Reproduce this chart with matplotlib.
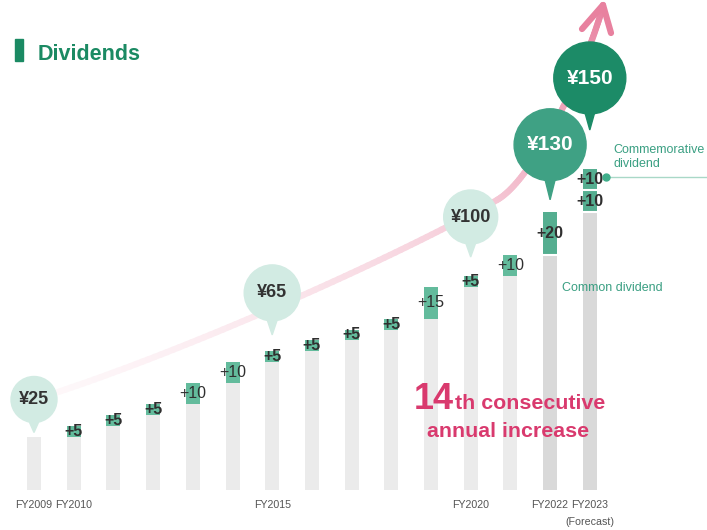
import numpy as np
import matplotlib
matplotlib.use("Agg")
import matplotlib.pyplot as plt
from matplotlib.patches import Ellipse, Polygon, Rectangle
from matplotlib.collections import LineCollection

plt.rcParams['font.family'] = ['Liberation Sans', 'DejaVu Sans']

# data (yen per share)
years = np.arange(2009, 2024)
common_dividend = np.array([25, 30, 35, 40, 50, 60, 65, 70, 75, 80, 95, 100, 110, 130, 140])
commemorative = np.array([0] * 14 + [10])
total = common_dividend + commemorative
labeled_years = [2009, 2010, 2015, 2020, 2022, 2023]
bubble_years = [2009, 2015, 2020, 2022, 2023]

W, H = 707, 530
X0, XS = 34.0, 39.7     # px of first bar, px per bar
Y0, YS = 490.0, 2.14    # px of baseline, px per yen


def dx(px):
    return (px - X0) / XS


def dy(py):
    return (Y0 - py) / YS


fig = plt.figure(figsize=(W / 100, H / 100), dpi=100)
ax = fig.add_axes([0, 0, 1, 1])
ax.set_xlim(dx(0), dx(W))
ax.set_ylim(dy(H), dy(0))
ax.axis("off")

idx = np.arange(len(years))
prev = np.concatenate([[total[0]], total[:-1]])
inc = common_dividend - prev
inc[0] = 0
bw = 14 / XS

gray = ["#d9d9d9" if y >= 2022 else "#ebebeb" for y in years]
green = ["#55ae90" if y >= 2022 else "#63bb9c" for y in years]

ax.bar(idx, prev, width=bw, color=gray, zorder=2)
ax.bar(idx[1:], inc[1:], bottom=prev[1:], width=bw, color=green[1:], zorder=2)
m = commemorative > 0
ax.bar(idx[m], commemorative[m], bottom=common_dividend[m], width=bw, color="#55ae90", zorder=2)

# white separators on the last bars
for i in idx[years >= 2022]:
    ax.hlines([prev[i], common_dividend[i]] if commemorative[i] else [prev[i]],
              i - bw / 2, i + bw / 2, color="white", lw=1.5, zorder=3)

# increment labels
for i in idx[1:]:
    big = years[i] >= 2022
    wt = "bold" if (inc[i] == 5 or big) else "normal"
    ax.text(i, prev[i] + inc[i] / 2, f"+{inc[i]}", ha="center", va="center",
            fontsize=11.5, color="#2f2f2f", fontweight=wt, zorder=5)
    if commemorative[i]:
        ax.text(i, common_dividend[i] + commemorative[i] / 2, f"+{commemorative[i]}",
                ha="center", va="center", fontsize=11.5, color="#2f2f2f",
                fontweight="bold", zorder=5)

# pink growth arrow (decoration), pixel-space bezier
def bez(p0, p1, p2, p3, n=80):
    t = np.linspace(0, 1, n)[:, None]
    p0, p1, p2, p3 = map(np.array, (p0, p1, p2, p3))
    return (1 - t) ** 3 * p0 + 3 * (1 - t) ** 2 * t * p1 + 3 * (1 - t) * t ** 2 * p2 + t ** 3 * p3

seg1 = bez((55, 393), (200, 345), (400, 255), (497, 200))
seg2 = bez((497, 200), (537, 177), (589, 58), (603, 6))
pts = np.vstack([seg1, seg2[1:]])
pts = np.column_stack([dx(pts[:, 0]), dy(pts[:, 1])])
segs = np.stack([pts[:-1], pts[1:]], axis=1)
t = np.linspace(0, 1, len(segs))[:, None]
pink = np.array([0.91, 0.51, 0.63])
a = 0.06 + 0.94 * t ** 1.3
cols = (1 - a) * np.array([1, 1, 1]) + a * pink
ax.add_collection(LineCollection(segs, colors=cols, linewidths=4.5, capstyle="round", zorder=3))
for ex, ey in [(582, 29), (611, 33)]:
    ax.plot([dx(603), dx(ex)], [dy(5), dy(ey)], color="#e8819f", lw=4.5,
            solid_capstyle="round", zorder=3)

# speech bubbles
bubble_style = {
    2009: dict(r=23, tail=10, gap=4, fc="#d2ebe3", tc="#333333", fs=13),
    2015: dict(r=28, tail=14, gap=16, fc="#d2ebe3", tc="#333333", fs=13),
    2020: dict(r=27, tail=13, gap=19, fc="#d2ebe3", tc="#333333", fs=13),
    2022: dict(r=36, tail=19, gap=12, fc="#3fa184", tc="white", fs=15),
    2023: dict(r=36, tail=16, gap=39, fc="#1c8b67", tc="white", fs=15),
}
for y in bubble_years:
    i = int(np.where(years == y)[0][0])
    s = bubble_style[y]
    top_px = Y0 - total[i] * YS
    tip = top_px - s["gap"]
    cy = tip - s["r"] - s["tail"]
    ax.add_patch(Ellipse((i, dy(cy)), 2 * s["r"] / XS, 2 * s["r"] / YS, color=s["fc"], zorder=6))
    ax.add_patch(Polygon([(i - 7 / XS, dy(cy + 0.75 * s["r"])), (i + 7 / XS, dy(cy + 0.75 * s["r"])),
                          (i, dy(tip))], closed=True, color=s["fc"], zorder=6))
    ax.text(i, dy(cy), f"¥{total[i]}", ha="center", va="center", fontsize=s["fs"],
            fontweight="bold", color=s["tc"], zorder=7)

# year labels
for y in labeled_years:
    i = int(np.where(years == y)[0][0])
    ax.text(i, dy(505), f"FY{y}", ha="center", va="center", fontsize=7.7, color="#555555")
ax.text(idx[-1], dy(522), "(Forecast)", ha="center", va="center", fontsize=7.7, color="#555555")

# title
fig.patches.append(Rectangle((15 / W, 1 - 61 / H), 8 / W, 22 / H, transform=fig.transFigure,
                             color="#1b8a63"))
fig.text(38 / W, 1 - 60 / H, "Dividends", ha="left", va="baseline", fontsize=15.5,
         fontweight="bold", color="#1b8a63")

# annotations
teal = "#3a9f82"
fig.text(613 / W, 1 - 157 / H, "Commemorative\ndividend", ha="left", va="center",
         fontsize=9, color=teal, linespacing=1.25)
ax.plot([dx(606), dx(W)], [dy(177), dy(177)], color="#a9d8c7", lw=1, zorder=4)
ax.plot([dx(606)], [dy(177)], "o", ms=5, color="#3fae8a", zorder=5)
fig.text(562 / W, 1 - 288 / H, "Common dividend", ha="left", va="center", fontsize=9, color=teal)

pink_txt = "#d93a6e"
fig.text(414 / W, 1 - 409 / H, "14", ha="left", va="baseline", fontsize=26,
         fontweight="bold", color=pink_txt)
fig.text(455 / W, 1 - 409 / H, "th consecutive", ha="left", va="baseline", fontsize=15.4,
         fontweight="bold", color=pink_txt)
fig.text(427 / W, 1 - 437 / H, "annual increase", ha="left", va="baseline", fontsize=15.4,
         fontweight="bold", color=pink_txt)

fig.savefig("out.png", dpi=100)
